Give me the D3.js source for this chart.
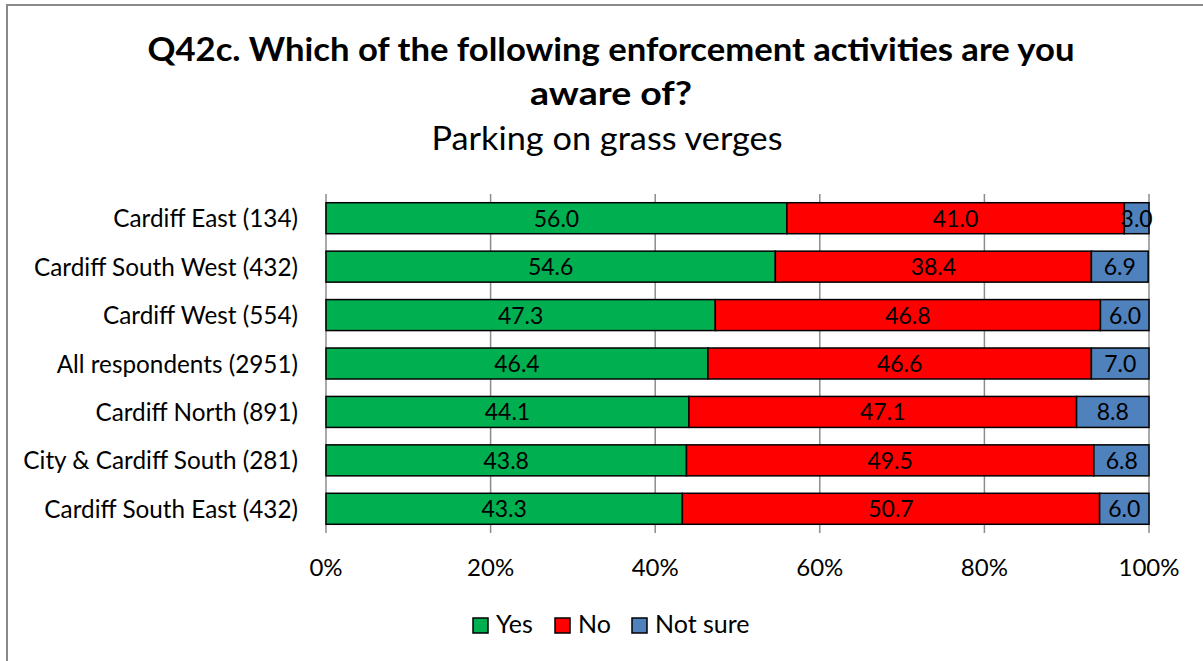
<!DOCTYPE html>
<html>
<head>
<meta charset="utf-8">
<script src="https://cdn.jsdelivr.net/npm/d3@7"></script>
<style>
  html, body { margin: 0; padding: 0; background: #fff; }
  svg { display: block; font-family: Lato, "Open Sans", "Liberation Sans", sans-serif; }
</style>
</head>
<body>
<svg id="chart" width="1203" height="661"></svg>
<script>
// Survey responses by area (percent)
const categories = [
  "Cardiff East (134)",
  "Cardiff South West (432)",
  "Cardiff West (554)",
  "All respondents (2951)",
  "Cardiff North (891)",
  "City & Cardiff South (281)",
  "Cardiff South East (432)"
];
const seriesNames = ["Yes", "No", "Not sure"];
const yesValues     = [56.0, 54.6, 47.3, 46.4, 44.1, 43.8, 43.3];
const noValues      = [41.0, 38.4, 46.8, 46.6, 47.1, 49.5, 50.7];
const notSureValues = [3.0, 6.9, 6.0, 7.0, 8.8, 6.8, 6.0];
const tickValues = [0, 20, 40, 60, 80, 100];
const tickLabels = ["0%", "20%", "40%", "60%", "80%", "100%"];
const colors = ["#00B050", "#FF0000", "#4F81BD"];

const rows = categories.map((c, i) => ({
  category: c,
  "Yes": yesValues[i],
  "No": noValues[i],
  "Not sure": notSureValues[i]
}));

const svg = d3.select("#chart");

// Chart frame
svg.append("line").attr("x1", 7).attr("x2", 7).attr("y1", 5).attr("y2", 661)
  .attr("stroke", "#898989").attr("stroke-width", 2);
svg.append("line").attr("x1", 6).attr("x2", 1203).attr("y1", 5).attr("y2", 5)
  .attr("stroke", "#898989").attr("stroke-width", 2);

// Titles
svg.append("text").attr("x", 611).attr("y", 61).attr("text-anchor", "middle")
  .attr("font-weight", "bold").attr("font-size", 33).attr("fill", "#000")
  .attr("textLength", 927).attr("lengthAdjust", "spacingAndGlyphs")
  .text("Q42c. Which of the following enforcement activities are you");
svg.append("text").attr("x", 611).attr("y", 105).attr("text-anchor", "middle")
  .attr("font-weight", "bold").attr("font-size", 33).attr("fill", "#000")
  .attr("textLength", 162).attr("lengthAdjust", "spacingAndGlyphs")
  .text("aware of?");
svg.append("text").attr("x", 607).attr("y", 150).attr("text-anchor", "middle")
  .attr("font-size", 33).attr("fill", "#000")
  .attr("textLength", 351).attr("lengthAdjust", "spacingAndGlyphs")
  .text("Parking on grass verges");

const x = d3.scaleLinear().domain([0, 100]).range([326, 1149]);
const y = d3.scaleBand().domain(categories).range([194, 533]).paddingInner(0.36).paddingOuter(0.18);

// Vertical gridlines
svg.append("g").selectAll("line").data(tickValues.slice(1)).join("line")
  .attr("x1", d => x(d)).attr("x2", d => x(d)).attr("y1", 194).attr("y2", 533)
  .attr("stroke", "#8c8c8c").attr("stroke-width", 1.5);

// Category axis line
svg.append("line").attr("x1", 326).attr("x2", 326).attr("y1", 194).attr("y2", 533)
  .attr("stroke", "#8c8c8c").attr("stroke-width", 1.5);

// Stacked bars
const stack = d3.stack().keys(seriesNames)(rows);
const groups = svg.append("g").selectAll("g").data(stack).join("g")
  .attr("fill", (d, i) => colors[i]);
groups.selectAll("rect").data(d => d).join("rect")
  .attr("x", d => x(d[0]))
  .attr("y", d => y(d.data.category))
  .attr("width", d => x(Math.min(d[1], 100)) - x(d[0]))
  .attr("height", y.bandwidth())
  .attr("stroke", "#000").attr("stroke-width", 1.5);

// Value labels
const labels = svg.append("g").attr("font-size", 23).attr("fill", "#000").attr("text-anchor", "middle");
stack.forEach(layer => {
  layer.forEach(d => {
    labels.append("text")
      .attr("x", (x(d[0]) + x(d[1])) / 2)
      .attr("y", y(d.data.category) + y.bandwidth() / 2 + 8.5)
      .text(d3.format(".1f")(d.data[layer.key]));
  });
});

// Category labels
svg.append("g").attr("font-size", 24.3).attr("fill", "#000").attr("text-anchor", "end")
  .selectAll("text").data(categories).join("text")
  .attr("x", 298)
  .attr("y", d => y(d) + y.bandwidth() / 2 + 9)
  .text(d => d);

// Percent axis labels
svg.append("g").attr("font-size", 24).attr("fill", "#000").attr("text-anchor", "middle")
  .selectAll("text").data(tickValues).join("text")
  .attr("x", d => x(d)).attr("y", 576)
  .text((d, i) => tickLabels[i]);

// Legend
const legendItems = [
  { name: "Yes", x: 473 },
  { name: "No", x: 555 },
  { name: "Not sure", x: 632 }
];
const legend = svg.append("g");
legendItems.forEach((item, i) => {
  legend.append("rect").attr("x", item.x).attr("y", 618).attr("width", 15).attr("height", 15)
    .attr("fill", colors[i]).attr("stroke", "#000").attr("stroke-width", 1.5);
  legend.append("text").attr("x", item.x + 23).attr("y", 633).attr("font-size", 25)
    .attr("fill", "#000").text(item.name);
});
</script>
</body>
</html>
